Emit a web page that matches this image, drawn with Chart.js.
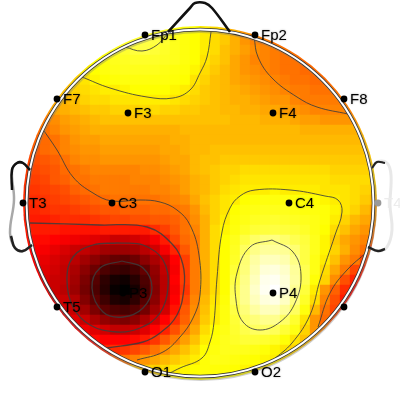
<!DOCTYPE html>
<html lang="en">
<head>
  <meta charset="UTF-8" />
  <title>EEG topographic map</title>
  <script src="https://cdn.jsdelivr.net/npm/chart.js"></script>
  <style>
    html, body { margin: 0; background: #fff; }
    canvas { display: block; }
  </style>
</head>
<body>
  <canvas id="myChart" width="400" height="400"></canvas>

  <script>
    // potential, one row per 10 units from y=30, rows are centred on x=200
    const heatRows = [
      [68,70,68,65,64,62,60,58,56,53,50,48],
      [67,70,72,72,69,66,64,62,60,58,56,53,50,48,47,46],
      [65,67,69,71,72,70,68,66,64,62,60,58,55,53,51,49,48,47,46,46],
      [60,62,64,66,67,68,68,68,67,66,64,62,59,57,55,52,50,48,48,47,46,46,45,45],
      [58,60,62,64,65,66,66,66,66,65,64,63,61,58,56,54,52,50,49,48,47,46,46,45,45,45],
      [55,57,59,61,62,63,64,64,64,64,64,63,62,59,57,55,54,52,51,50,49,48,47,46,46,45,45,45],
      [53,55,57,58,59,60,60,61,62,62,62,62,61,60,58,56,55,54,53,52,51,50,49,48,47,47,46,46,46,46],
      [52,54,55,57,58,58,59,59,59,60,60,60,59,58,57,56,55,54,53,53,52,51,50,50,48,47,47,47,47,47],
      [50,52,53,54,55,56,56,57,57,57,58,58,57,57,56,56,55,55,54,54,53,53,52,52,51,50,49,48,48,48,48,48],
      [46,47,49,51,52,53,54,55,55,55,55,55,55,55,55,55,55,55,55,55,54,54,54,53,53,53,52,51,51,50,50,50,50,50],
      [45,46,48,50,51,52,53,53,53,53,53,53,53,53,53,54,54,54,54,54,54,54,54,54,54,54,54,53,53,53,53,53,53,53],
      [44,45,46,48,50,51,51,52,52,52,52,52,52,52,53,53,54,54,54,54,54,54,54,54,54,54,54,54,54,54,54,54,54,54],
      [42,43,45,46,48,49,50,50,51,51,51,51,51,51,52,52,53,54,54,55,55,55,55,55,55,55,55,55,55,55,55,55,55,55,55,55],
      [41,42,43,44,46,48,49,49,50,50,50,50,50,50,51,52,52,54,55,55,56,56,56,56,56,56,56,56,56,56,56,56,56,56,56,56],
      [40,41,42,43,45,46,47,48,48,48,48,48,49,49,50,51,52,54,55,56,57,57,58,58,58,58,58,58,58,58,58,57,57,57,57,57],
      [39,40,41,43,44,46,46,47,47,47,47,48,48,48,49,50,51,53,54,56,57,58,59,59,59,59,59,59,59,59,59,58,58,58,58,57],
      [38,39,40,41,42,44,45,46,47,47,47,47,47,48,48,49,51,53,54,56,58,59,60,60,60,61,60,60,60,60,59,59,59,58,57,56],
      [38,38,39,40,41,42,43,44,45,46,46,46,46,46,47,48,49,52,55,57,59,60,62,63,64,64,64,63,63,62,61,60,59,58,56,54],
      [37,37,38,39,39,40,41,42,43,43,44,44,44,45,45,46,47,50,54,57,59,62,64,65,66,66,66,65,64,64,63,61,59,57,54,51],
      [36,36,36,37,38,38,38,39,40,41,41,42,42,43,43,44,46,49,53,57,60,63,65,67,68,69,68,67,66,65,63,60,57,54,52,50],
      [36,36,36,36,35,35,35,35,36,36,36,36,36,38,40,43,46,48,53,58,61,64,67,70,71,72,71,70,68,65,62,58,55,52,50,47],
      [35,34,34,33,32,31,30,29,28,26,26,27,29,32,36,41,45,47,53,58,62,66,72,77,80,81,78,74,71,66,61,56,52,50,48,45],
      [34,33,32,30,28,26,25,23,21,20,20,21,24,27,32,37,43,47,53,58,62,67,76,82,85,85,84,79,72,66,61,57,53,49,46,41],
      [33,32,30,28,26,24,21,18,15,13,12,14,18,22,26,33,40,47,53,58,62,68,79,86,90,90,88,82,72,65,60,55,50,47,41,36],
      [32,31,29,27,25,22,18,14,10,8,7,9,13,19,25,32,40,47,53,58,62,70,80,88,94,95,92,85,74,65,58,52,47,41,37,33],
      [32,30,28,26,25,21,16,11,6,3,2,5,10,18,24,33,40,47,53,58,62,72,82,90,97,98,94,86,74,63,57,49,42,37,34,30],
      [31,30,28,26,24,20,15,10,5,1,0,3,9,17,24,32,39,47,53,58,62,74,83,92,98,100,95,84,71,60,50,44,38,34,31,28],
      [29,27,26,23,17,12,8,4,3,6,11,18,25,33,41,48,54,59,63,75,83,90,95,96,91,81,68,58,48,42,36,33],
      [29,28,26,21,16,12,10,9,11,15,21,27,35,43,49,55,60,64,72,80,86,90,90,85,76,64,54,46,41,36],
      [30,29,26,22,19,17,16,18,22,27,33,38,44,50,56,60,64,70,77,80,83,83,77,69,59,50,45,42],
      [32,31,29,27,25,25,26,29,33,37,42,47,52,58,62,65,69,73,76,77,75,70,65,57,50,48],
      [35,34,33,33,33,34,36,39,43,47,51,55,60,63,66,68,70,70,69,67,63,59,55,52],
      [37,37,38,39,41,43,46,49,52,55,58,62,64,66,66,66,65,63,61,59,57,55],
      [42,44,46,48,50,52,54,56,58,60,63,65,65,64,63,62,61,60,58,56],
      [54,55,56,57,58,60,61,62,63,63,63,62,61,60,59,58],
      [59,60,61,62,63,63,63,62,62,61]
    ];

    const contourLevel13 = [[122,261],[143,268],[152,288],[143,308],[123,317],[103,312],[92,288],[100,268],[122,261]];
    const contourLevel25 = [[117,243],[143,245],[163,260],[168,287],[160,313],[140,328],[117,332],[90,325],[73,307],[67,280],[73,257],[93,245],[117,243]];
    const contourLevel37 = [[30,223],[100,225],[147,227],[173,245],[183,265],[184,288],[177,315],[160,333],[143,342],[107,348]];
    const contourLevel46 = [[42,128],[57,150],[73,177],[93,193],[112,201],[140,200],[160,202],[177,210],[190,225],[199,255],[200,295],[193,318],[180,337],[163,352],[137,360]];
    const contourLevel60a = [[82,77],[110,88],[147,97],[173,98],[190,90],[200,73],[207,57],[211,32]];
    const contourLevel60b = [[170,373],[180,368],[202,358],[210,342],[214,322],[217,278],[222,232],[230,208],[240,196],[255,190],[290,190],[325,196],[338,200],[342,212],[335,235],[320,280],[310,315],[292,343],[273,360]];
    const contourLevel72 = [[125,47],[142,51],[157,45],[168,33]];
    const contourLevel48 = [[254,37],[258,57],[272,78],[297,97],[317,107],[348,114]];
    const contourLevel46b = [[367,252],[347,270],[330,293],[318,327]];
    const contourLevel80 = [[272,240],[293,252],[301,275],[295,303],[280,322],[260,330],[243,322],[236,300],[237,273],[250,247],[272,240]];

    // the T6 name cannot be read in the picture, so its label stays empty
    const electrodeNames = ['Fp1','Fp2','F7','F3','F4','F8','T3','C3','C4','T4','T5','P3','P4','','O1','O2'];
    const electrodeX = [145,255,57,128,273,344,23,112,289,378,57,123,273,344,145,255];
    const electrodeY = [35,35,99,113,113,99,203,203,203,203,307,293,293,307,372,372];

    const noseLine = [[168,32],[190,8],[195,3],[205,3],[212,8],[230,32]];
    const leftEarLine = [[30,170],[23,163],[17,163],[12,170],[14,200],[10,233],[15,248],[23,251],[32,245]];
    const rightEarLine = [[372,168],[377,162],[387,163],[391,175],[390,205],[392,230],[387,247],[378,251],[368,247]];
    const leftEarTop = [[30,170],[23,163],[17,163],[12,170],[12,190]];
    const leftEarBottom = [[11,236],[15,248],[23,251],[32,245]];
    const rightEarTop = [[372,168],[377,162],[385,163]];
    const rightEarBottom = [[368,247],[378,251],[385,249]];

    const headCentre = { x: 200, y: 203 };
    const headFillRadius = 177;

    function toPoints(list) {
      return list.map(p => ({ x: p[0], y: p[1] }));
    }

    // black - red - yellow - white
    function heatColor(v) {
      if (v < 33) return `rgb(${Math.round(v / 33 * 255)},0,0)`;
      if (v < 62) return `rgb(255,${Math.round((v - 33) / 29 * 255)},0)`;
      return `rgb(255,255,${Math.round((v - 62) / 38 * 255)})`;
    }

    const heatPoints = [];
    heatRows.forEach((row, r) => {
      const offset = (36 - row.length) / 2;
      row.forEach((v, c) => {
        heatPoints.push({ x: 25 + (c + offset) * 10, y: 30 + r * 10, v: v });
      });
    });

    function lineSet(list, color, width, order) {
      return {
        data: toPoints(list),
        showLine: true,
        tension: 0.4,
        pointRadius: 0,
        borderColor: color,
        borderWidth: width,
        fill: false,
        order: order
      };
    }

    function ringSet(centre, radius, color, width, order) {
      return {
        data: [centre],
        pointRadius: radius,
        pointBackgroundColor: 'rgba(0,0,0,0)',
        pointBorderColor: color,
        pointBorderWidth: width,
        clip: false,
        order: order
      };
    }

    const contourColor = 'rgba(60,60,60,0.85)';

    // round clip for the colour field, and electrode names
    const headPlugin = {
      id: 'head',
      beforeDatasetDraw(chart, args) {
        if (args.index !== 0) return;
        const sx = chart.scales.x, sy = chart.scales.y;
        const cx = sx.getPixelForValue(headCentre.x);
        const cy = sy.getPixelForValue(headCentre.y);
        const r = sx.getPixelForValue(headCentre.x + headFillRadius) - cx;
        chart.ctx.save();
        chart.ctx.beginPath();
        chart.ctx.arc(cx, cy, r, 0, Math.PI * 2);
        chart.ctx.clip();
      },
      afterDatasetDraw(chart, args) {
        if (args.index === 0) chart.ctx.restore();
      },
      afterDatasetsDraw(chart) {
        const ctx = chart.ctx, sx = chart.scales.x, sy = chart.scales.y;
        ctx.save();
        ctx.font = '15px "Liberation Sans"';
        ctx.textBaseline = 'middle';
        electrodeNames.forEach((name, i) => {
          const px = sx.getPixelForValue(electrodeX[i]) + 6;
          const py = sy.getPixelForValue(electrodeY[i]) + 1;
          const faint = name === 'T4';
          ctx.fillStyle = faint ? '#ececec' : '#000';
          if (!faint) {
            ctx.shadowColor = 'rgba(0,0,0,0.35)';
            ctx.shadowBlur = 2;
          } else {
            ctx.shadowBlur = 0;
          }
          ctx.fillText(name, px, py);
        });
        ctx.restore();
      }
    };

    new Chart(document.getElementById('myChart').getContext('2d'), {
      type: 'scatter',
      data: {
        datasets: [
          {
            data: heatPoints,
            pointStyle: 'rect',
            pointRadius: 7.3,
            pointBorderWidth: 0,
            pointBackgroundColor: c => heatColor(c.raw.v),
            order: 20
          },
          lineSet(contourLevel13, contourColor, 1.3, 10),
          lineSet(contourLevel25, contourColor, 1.3, 10),
          lineSet(contourLevel37, contourColor, 1.3, 10),
          lineSet(contourLevel46, contourColor, 1, 10),
          lineSet(contourLevel46b, contourColor, 1, 10),
          lineSet(contourLevel48, contourColor, 1, 10),
          lineSet(contourLevel60a, contourColor, 1, 10),
          lineSet(contourLevel60b, contourColor, 1, 10),
          lineSet(contourLevel72, contourColor, 1, 10),
          lineSet(contourLevel80, contourColor, 1, 10),
          ringSet({ x: headCentre.x + 1, y: headCentre.y + 2 }, 174, 'rgba(120,120,120,0.35)', 4, 9),
          ringSet(headCentre, 173.5, '#333', 3.5, 8),
          ringSet(headCentre, 173.5, '#fff', 2, 7),
          lineSet(leftEarLine, 'rgba(110,110,110,0.6)', 2.5, 6),
          lineSet(rightEarLine, 'rgba(190,190,190,0.35)', 3, 6),
          lineSet(leftEarTop, '#111', 2.5, 5),
          lineSet(leftEarBottom, '#222', 2.5, 5),
          lineSet(rightEarTop, '#222', 2.2, 5),
          lineSet(rightEarBottom, '#222', 2.5, 5),
          lineSet(noseLine, '#111', 2.6, 5),
          {
            data: electrodeX.map((x, i) => ({ x: x, y: electrodeY[i] })),
            pointRadius: 3.4,
            pointBorderWidth: 0,
            pointBackgroundColor: c => electrodeNames[c.dataIndex] === 'T4' ? '#999' : '#000',
            clip: false,
            order: 1
          }
        ]
      },
      options: {
        responsive: false,
        animation: false,
        events: [],
        layout: { padding: 0, autoPadding: false },
        plugins: { legend: { display: false }, tooltip: { enabled: false } },
        scales: {
          x: { type: 'linear', min: 0, max: 400, display: false },
          y: { type: 'linear', min: 0, max: 400, reverse: true, display: false }
        }
      },
      plugins: [headPlugin]
    });
  </script>
</body>
</html>
